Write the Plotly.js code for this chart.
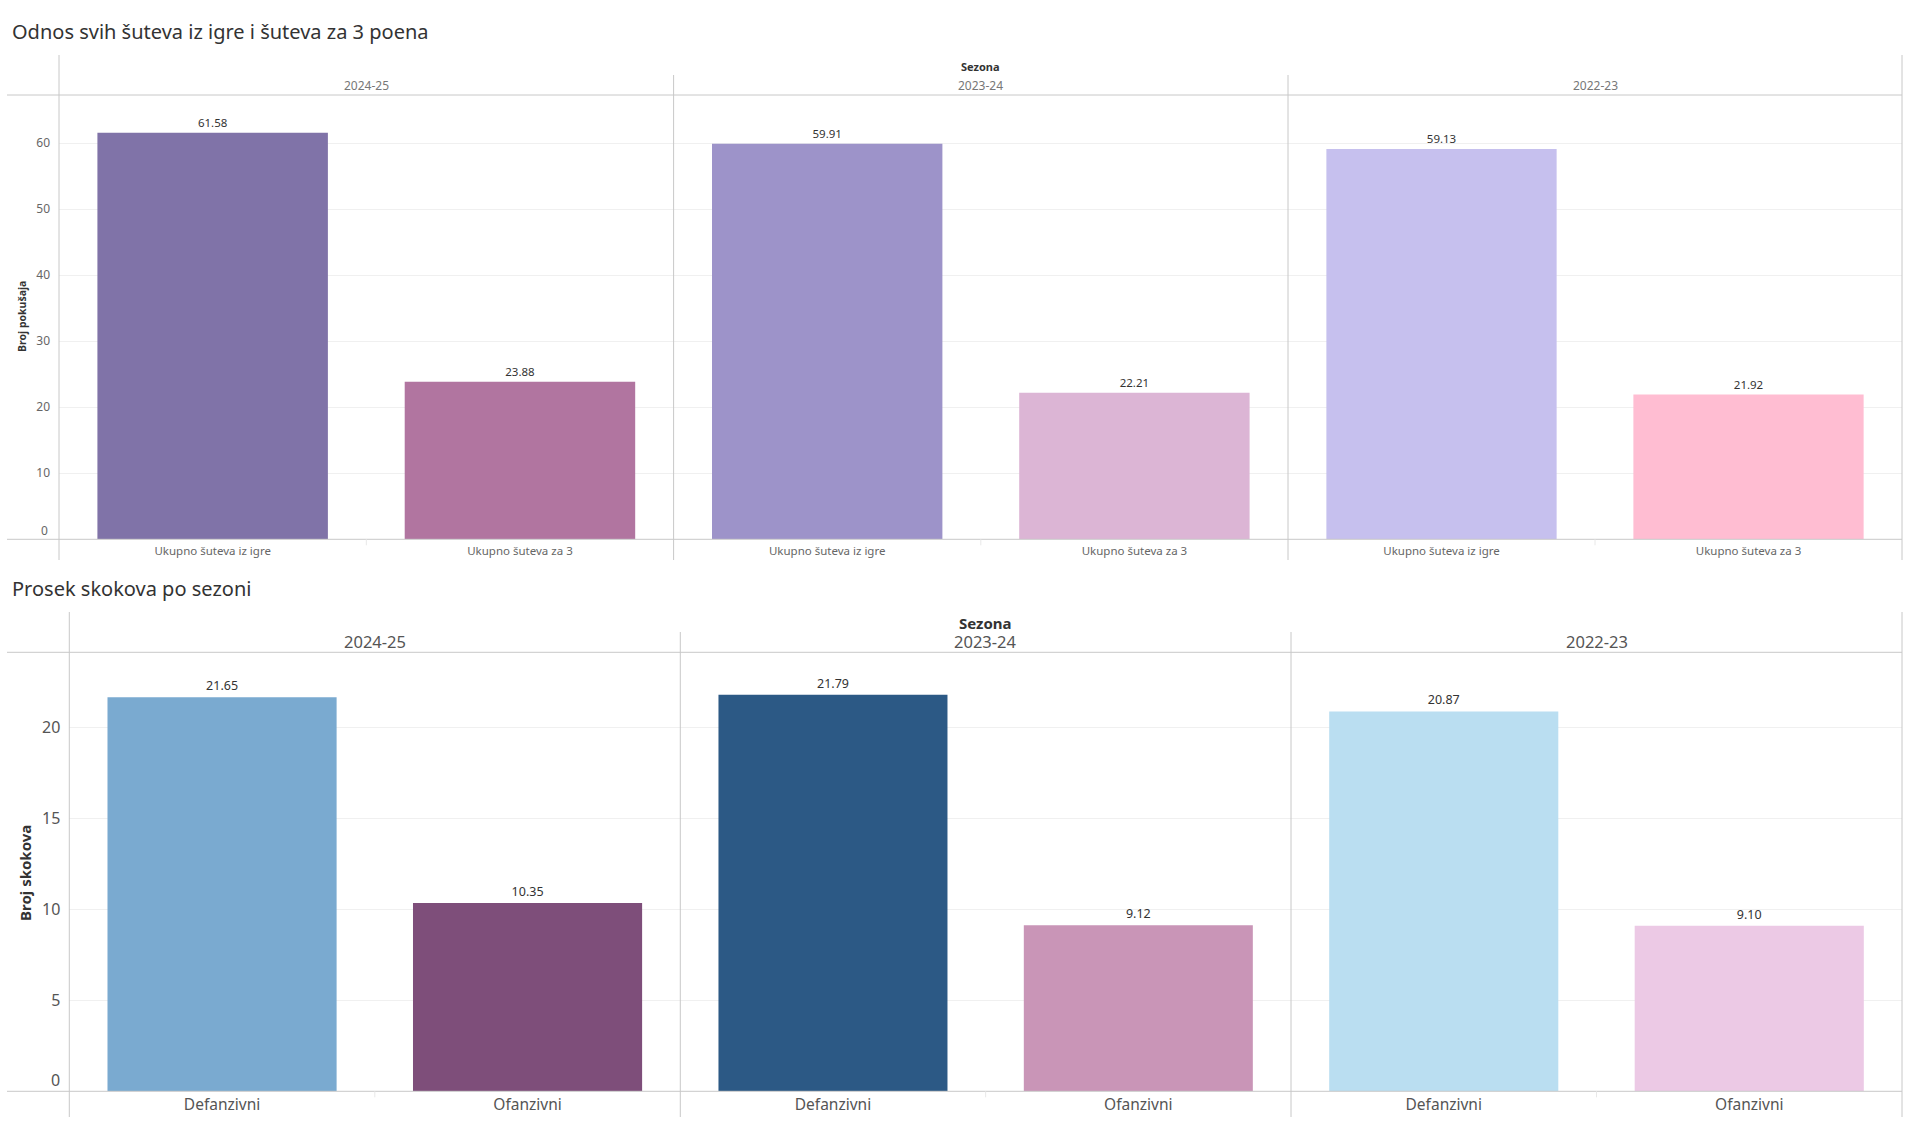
<!DOCTYPE html>
<html>
<head>
<meta charset="utf-8">
<script src="https://cdn.plot.ly/plotly-3.0.1.min.js"></script>
<style>html,body{margin:0;padding:0;background:#fff;}#chart{width:1910px;height:1126px;}</style>
</head>
<body>
<div id="chart"></div>
<script>
// ---- data ----
const seasons = ['2024-25', '2023-24', '2022-23'];
const shotCats = ['Ukupno šuteva iz igre', 'Ukupno šuteva za 3'];
const shotsFG = [61.58, 59.91, 59.13];
const shots3 = [23.88, 22.21, 21.92];
const rebCats = ['Defanzivni', 'Ofanzivni'];
const rebDef = [21.65, 21.79, 20.87];
const rebOff = [10.35, 9.12, 9.10];
const shotTicks = [10, 20, 30, 40, 50, 60];
const rebTicks = [5, 10, 15, 20];

// ---- styles ----
const shotColors = [['#8073A8', '#B175A0'], ['#9D93C9', '#DCB5D5'], ['#C6C0EE', '#FFBDD2']];
const rebColors = [['#7AAAD0', '#7E4E7A'], ['#2C5985', '#C995B7'], ['#BADEF1', '#ECC9E5']];
const FONT = '"Noto Sans", "Open Sans", sans-serif';
const W = 1910, H = 1126;
const px = x => x / W;
const py = y => 1 - y / H;

// panel geometry (pixels)
const topX = [59, 673.6, 1288, 1902];
const botX = [69.3, 680.3, 1291, 1902];
const topY = [95, 539.3];
const botY = [652.3, 1091.3];

const traces = [];
const layout = {
  width: W, height: H,
  margin: {l: 0, r: 0, t: 0, b: 0},
  paper_bgcolor: '#fff', plot_bgcolor: 'rgba(0,0,0,0)',
  showlegend: false,
  bargap: 0.25,
  font: {family: FONT, color: '#555'},
  annotations: [], shapes: []
};

// shot chart
for (let i = 0; i < 3; i++) {
  const ax = i === 0 ? '' : String(i + 1);
  traces.push({
    type: 'bar', x: shotCats, y: [shotsFG[i], shots3[i]],
    xaxis: 'x' + ax, yaxis: 'y',
    marker: {color: shotColors[i], line: {width: 0}},
    texttemplate: '%{y:.2f}', textposition: 'outside', cliponaxis: false,
    textfont: {size: 11.5, color: '#333', family: FONT},
    hoverinfo: 'skip'
  });
  layout['xaxis' + ax] = {
    domain: [px(topX[i]), px(topX[i + 1])], anchor: 'y',
    type: 'category', categoryarray: shotCats,
    showgrid: false, zeroline: false, showline: false, ticks: '',
    tickfont: {size: 11.5, color: '#666', family: FONT}, ticklabelstandoff: 3,
    fixedrange: true
  };
  layout.annotations.push({
    xref: 'paper', yref: 'paper', x: px((topX[i] + topX[i + 1]) / 2), y: py(85.5),
    text: seasons[i], showarrow: false, xanchor: 'center', yanchor: 'middle',
    font: {size: 12, color: '#777', family: FONT}
  });
}
layout.yaxis = {
  domain: [py(topY[1]), py(topY[0])], anchor: 'x', range: [0, 67.3],
  tickvals: shotTicks, showgrid: true, gridcolor: '#f0f0f0', gridwidth: 1,
  zeroline: false, showline: false, ticks: '',
  tickfont: {size: 12, color: '#666', family: FONT}, ticklabelstandoff: 8,
  fixedrange: true
};

// rebound chart
for (let i = 0; i < 3; i++) {
  const ax = String(i + 4);
  traces.push({
    type: 'bar', x: rebCats, y: [rebDef[i], rebOff[i]],
    xaxis: 'x' + ax, yaxis: 'y2',
    marker: {color: rebColors[i], line: {width: 0}},
    texttemplate: '%{y:.2f}', textposition: 'outside', cliponaxis: false,
    textfont: {size: 12.5, color: '#333', family: FONT},
    hoverinfo: 'skip'
  });
  layout['xaxis' + ax] = {
    domain: [px(botX[i]), px(botX[i + 1])], anchor: 'y2',
    type: 'category', categoryarray: rebCats,
    showgrid: false, zeroline: false, showline: false, ticks: '',
    tickfont: {size: 15.5, color: '#555', family: FONT}, ticklabelstandoff: 2,
    fixedrange: true
  };
  layout.annotations.push({
    xref: 'paper', yref: 'paper', x: px((botX[i] + botX[i + 1]) / 2), y: py(641.5),
    text: seasons[i], showarrow: false, xanchor: 'center', yanchor: 'middle',
    font: {size: 16.5, color: '#555', family: FONT}
  });
}
layout.yaxis2 = {
  domain: [py(botY[1]), py(botY[0])], anchor: 'x4', range: [0, 24.12],
  tickvals: rebTicks, showgrid: true, gridcolor: '#f0f0f0', gridwidth: 1,
  zeroline: false, showline: false, ticks: '',
  tickfont: {size: 16, color: '#555', family: FONT}, ticklabelstandoff: 8,
  fixedrange: true
};

// zero labels (Tableau draws them just above the baseline)
layout.annotations.push({
  xref: 'paper', yref: 'y', x: px(50), y: 0, yshift: 9, text: '0', showarrow: false,
  xanchor: 'right', yanchor: 'middle', font: {size: 12, color: '#666', family: FONT}
});
layout.annotations.push({
  xref: 'paper', yref: 'y2', x: px(61.5), y: 0, yshift: 11, text: '0', showarrow: false,
  xanchor: 'right', yanchor: 'middle', font: {size: 16, color: '#555', family: FONT}
});

// titles and headers
layout.annotations.push(
  {xref: 'paper', yref: 'paper', x: px(10), y: py(31), text: 'Odnos svih šuteva iz igre i šuteva za 3 poena',
   showarrow: false, xanchor: 'left', yanchor: 'middle', font: {size: 20, color: '#333', family: FONT}},
  {xref: 'paper', yref: 'paper', x: px(10), y: py(588), text: 'Prosek skokova po sezoni',
   showarrow: false, xanchor: 'left', yanchor: 'middle', font: {size: 20, color: '#333', family: FONT}},
  {xref: 'paper', yref: 'paper', x: px((topX[0] + topX[3]) / 2), y: py(66), text: '<b>Sezona</b>',
   showarrow: false, xanchor: 'center', yanchor: 'middle', font: {size: 11, color: '#333', family: FONT}},
  {xref: 'paper', yref: 'paper', x: px((botX[0] + botX[3]) / 2), y: py(622.5), text: '<b>Sezona</b>',
   showarrow: false, xanchor: 'center', yanchor: 'middle', font: {size: 15, color: '#333', family: FONT}},
  {xref: 'paper', yref: 'paper', x: px(22), y: py(317), text: '<b>Broj pokušaja</b>', textangle: -90,
   showarrow: false, xanchor: 'center', yanchor: 'middle', font: {size: 10.5, color: '#333', family: FONT}},
  {xref: 'paper', yref: 'paper', x: px(25), y: py(873), text: '<b>Broj skokova</b>', textangle: -90,
   showarrow: false, xanchor: 'center', yanchor: 'middle', font: {size: 15, color: '#333', family: FONT}}
);

// frame lines
const LC = '#c8c8c8';
function hline(y, x0, x1) {
  layout.shapes.push({type: 'line', xref: 'paper', yref: 'paper', x0: px(x0), x1: px(x1), y0: py(y), y1: py(y), line: {color: LC, width: 1}});
}
function vline(x, y0, y1, c) {
  layout.shapes.push({type: 'line', xref: 'paper', yref: 'paper', x0: px(x), x1: px(x), y0: py(y0), y1: py(y1), line: {color: c || LC, width: 1}});
}
hline(topY[0], 7, 1902); hline(topY[1], 7, 1902);
vline(topX[0], 55, 560); vline(topX[1], 75, 560); vline(topX[2], 75, 560); vline(topX[3], 55, 560);
hline(botY[0], 7, 1902); hline(botY[1], 7, 1902);
vline(botX[0], 612, 1117); vline(botX[1], 632, 1117); vline(botX[2], 632, 1117); vline(botX[3], 612, 1117);
for (let i = 0; i < 3; i++) {
  vline((topX[i] + topX[i + 1]) / 2, topY[1], topY[1] + 6, '#e8e8e8');
  vline((botX[i] + botX[i + 1]) / 2, botY[1], botY[1] + 6, '#e8e8e8');
}

Plotly.newPlot('chart', traces, layout, {displayModeBar: false, staticPlot: true});
</script>
</body>
</html>
